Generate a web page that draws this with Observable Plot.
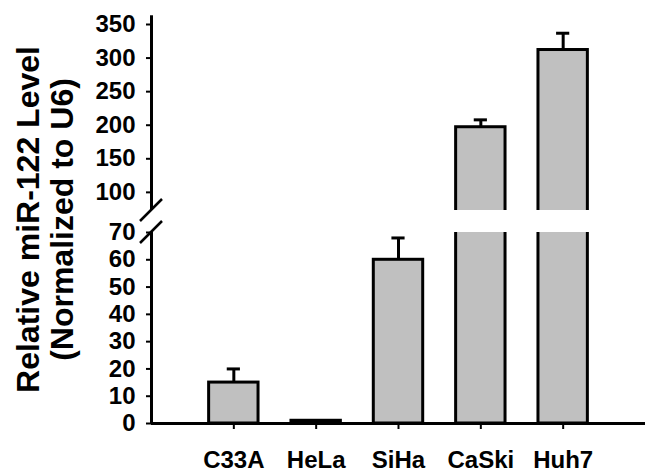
<!DOCTYPE html>
<html><head><meta charset="utf-8">
<script src="https://cdn.jsdelivr.net/npm/d3@7"></script>
<script src="https://cdn.jsdelivr.net/npm/@observablehq/plot@0.6"></script>
<style>body{margin:0;background:#fff} svg{display:block}</style>
</head><body><div id="chart"></div>
<script>
const categories = ["C33A", "HeLa", "SiHa", "CaSki", "Huh7"];
const means = [15, 1, 60, 197, 312];
const errors = [5, 0, 8, 11, 25];
const yTicks = [0, 10, 20, 30, 40, 50, 60, 70, 100, 150, 200, 250, 300, 350];
const breakLow = 70, breakHigh = 73;
const yLabel = "Relative miR-122 Level\n(Normalized to U6)";

const data = categories.map((c, i) => ({cat: c, i: i + 1, v: means[i], e: errors[i]}));
const font = "'Liberation Sans', Arial, sans-serif";

const breakMarks = (index, scales) => {
  const g = d3.create("svg:g").attr("stroke", "black").attr("stroke-width", 2.5).attr("fill", "none");
  const x0 = scales.x(0);
  for (const v of [breakLow, breakHigh]) {
    const y0 = scales.y(v);
    g.append("line").attr("x1", x0 - 11).attr("y1", y0 + 11).attr("x2", x0 + 11).attr("y2", y0 - 11);
  }
  return g.node();
};

const chart = Plot.plot({
  width: 646, height: 475,
  marginLeft: 151, marginRight: 1, marginTop: 15, marginBottom: 52,
  x: {type: "linear", domain: [0, 6], range: [151, 645]},
  y: {type: "linear", domain: [0, breakLow, breakHigh, 350], range: [423, 232, 210, 24]},
  style: {fontFamily: font, fontWeight: "bold", fontSize: "24px", color: "black", background: "white"},
  marks: [
    Plot.axisY({ticks: yTicks, tickSize: 5, tickPadding: 11, fontSize: 24, label: null, strokeWidth: 2}),
    Plot.axisX({ticks: categories.map((c, i) => i + 1), tickFormat: i => categories[i - 1], tickSize: 6, tickPadding: 21, fontSize: 24, label: null, strokeWidth: 2}),
    Plot.ruleX([0], {y1: 0, y2: breakLow, strokeWidth: 3}),
    Plot.ruleX([0], {y1: breakHigh, y2: 363, strokeWidth: 3}),
    Plot.ruleY([0], {strokeWidth: 3}),
    Plot.ruleX(data.filter(d => d.e > 0), {x: "i", y1: "v", y2: d => d.v + d.e, strokeWidth: 3}),
    Plot.ruleY(data.filter(d => d.e > 0), {y: d => d.v + d.e, x1: d => d.i - 0.08, x2: d => d.i + 0.08, strokeWidth: 3}),
    Plot.rect(data, {x1: d => d.i - 0.3, x2: d => d.i + 0.3, y1: 0, y2: "v", fill: "#c0c0c0", stroke: "black", strokeWidth: 3}),
    Plot.rect(data.filter(d => d.v > breakHigh), {x1: d => d.i - 0.34, x2: d => d.i + 0.34, y1: breakLow, y2: breakHigh, fill: "white"}),
    breakMarks,
    Plot.text([yLabel], {frameAnchor: "left", textAnchor: "middle", rotate: -90, dx: -106, fontSize: 32, fontWeight: "bold", lineHeight: 1.05})
  ]
});
document.getElementById("chart").append(chart);
</script>
</body></html>
